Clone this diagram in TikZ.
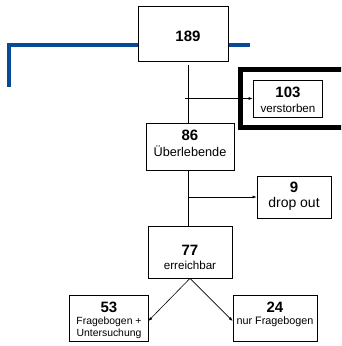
\documentclass[tikz,border=0pt]{standalone}
\usepackage{fontspec}
\setmainfont{Liberation Sans}
\usetikzlibrary{arrows.meta}
\definecolor{balken}{RGB}{8,74,150}
\tikzset{
  kasten/.style={draw, fill=white, line width=0.7pt, inner sep=0pt},
  pfeil/.style={-{Latex[length=4pt,width=3pt]}, line width=0.6pt},
  zahl/.style={font=\fontsize{15}{16}\selectfont\bfseries}
}
\begin{document}
\begin{tikzpicture}[x=1pt, y=-1pt]
    \useasboundingbox (0,0) rectangle (341,346);
    \clip (0,0) rectangle (341,346);

    % Blauer Balken
    \draw[balken, line width=4.5pt] (9,87) -- (9,45) -- (250,45);

    % Kaesten
    \node[kasten, minimum width=90pt, minimum height=55pt] (k189) at (183,33.5) {};
    \node[zahl] at (188,36) {189};

    \draw[line width=5pt] (240.5,69) rectangle (345,127);
    \node[kasten, minimum width=69pt, minimum height=37pt] (k103) at (287.5,98.5) {};
    \node[zahl] at (288,92) {103};
    \node[font=\fontsize{11.6}{12}\selectfont] at (288,108) {verstorben};

    \node[kasten, minimum width=88pt, minimum height=47pt] (k86) at (190,146.5) {};
    \node[zahl] at (190,135) {86};
    \node[font=\fontsize{12.7}{13}\selectfont] at (190,151) {Überlebende};

    \node[kasten, minimum width=74pt, minimum height=42pt] (k9) at (294,197) {};
    \node[zahl] at (294,187) {9};
    \node[font=\fontsize{14}{15}\selectfont] at (294,204) {drop out};

    \node[kasten, minimum width=84pt, minimum height=52pt] (k77) at (190,252) {};
    \node[zahl] at (190,250) {77};
    \node[font=\fontsize{11.6}{12}\selectfont] at (190,265) {erreichbar};

    \node[kasten, minimum width=79pt, minimum height=46pt] (k53) at (108.5,318) {};
    \node[zahl] at (109,307) {53};
    \node[font=\fontsize{10.4}{11}\selectfont] at (109,322) {Fragebogen +};
    \node[font=\fontsize{10.4}{11}\selectfont] at (109,333.5) {Untersuchung};

    \node[kasten, minimum width=84pt, minimum height=46pt] (k24) at (275,318) {};
    \node[zahl] at (275,307) {24};
    \node[font=\fontsize{10.8}{11}\selectfont] at (275,322) {nur Fragebogen};

    % Verbindungen
    \coordinate (v1) at (188.5,65);
    \coordinate (a1) at (185,98.5);
    \coordinate (a2) at (188.5,197);
    \coordinate (e1) at (0,321);
    \draw[line width=0.6pt] (v1) -- (k86.north -| v1);
    \draw[pfeil] (a1) -- (k103.west |- a1);
    \draw[line width=0.6pt] (k86.south -| a2) -- (k77.north -| a2);
    \draw[pfeil] (a2) -- (k9.west |- a2);
    \draw[pfeil] (k77.south) -- (k53.east |- e1);
    \draw[pfeil] (k77.south) -- (k24.west |- e1);

\end{tikzpicture}
\end{document}
